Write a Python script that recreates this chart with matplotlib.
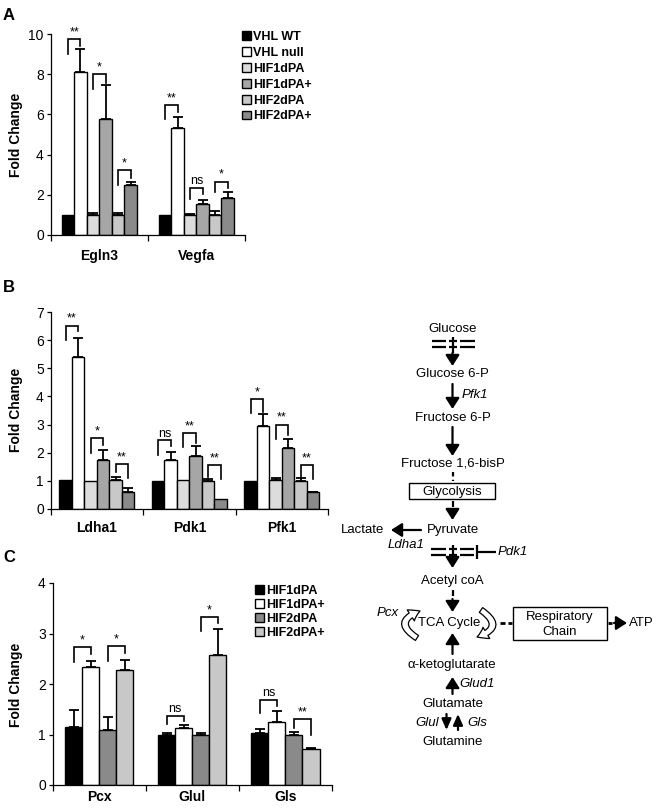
import numpy as np
import matplotlib
matplotlib.use('Agg')
import matplotlib.pyplot as plt
from matplotlib.patches import Rectangle, FancyArrowPatch

plt.rcParams['font.family'] = ['Liberation Sans', 'DejaVu Sans']

# ---- panel A data ----
a_genes = ['Egln3', 'Vegfa']
a_series = ['VHL WT', 'VHL null', 'HIF1dPA', 'HIF1dPA+', 'HIF2dPA', 'HIF2dPA+']
a_colors = ['#000000', '#ffffff', '#dcdcdc', '#a6a6a6', '#c8c8c8', '#8a8a8a']
egln3_vals = [1.0, 8.1, 1.0, 5.77, 1.0, 2.5]
egln3_err = [0, 1.15, 0.1, 1.68, 0.08, 0.16]
vegfa_vals = [1.0, 5.33, 1.0, 1.53, 0.98, 1.86]
vegfa_err = [0, 0.55, 0.05, 0.22, 0.22, 0.28]
# (gene, bar i, bar j, left leg, top, right leg, label)
a_sig = [(0, 0, 1, 9.0, 9.75, 9.42, '**'), (0, 2, 3, 7.26, 8.0, 7.54, '*'),
         (0, 4, 5, 2.49, 3.24, 2.86, '*'), (1, 0, 1, 5.76, 6.48, 6.13, '**'),
         (1, 2, 3, 1.81, 2.36, 2.03, 'ns'), (1, 4, 5, 2.14, 2.66, 2.36, '*')]

# ---- panel B data ----
b_genes = ['Ldha1', 'Pdk1', 'Pfk1']
ldha1_vals = [1.03, 5.4, 1.0, 1.75, 1.02, 0.6]
ldha1_err = [0, 0.66, 0, 0.35, 0.11, 0.13]
pdk1_vals = [1.0, 1.73, 1.03, 1.9, 1.0, 0.36]
pdk1_err = [0, 0.28, 0, 0.33, 0.08, 0]
pfk1_vals = [1.0, 2.94, 1.02, 2.17, 1.01, 0.6]
pfk1_err = [0, 0.43, 0.08, 0.32, 0.09, 0.02]
b_sig = [(0, 0, 1, 6.0, 6.52, 6.32, '**'), (0, 2, 3, 2.0, 2.52, 2.29, '*'),
         (0, 4, 5, 1.3, 1.6, 1.1, '**'), (1, 0, 1, 1.93, 2.44, 2.23, 'ns'),
         (1, 2, 3, 2.2, 2.7, 2.35, '**'), (1, 4, 5, 1.15, 1.57, 1.05, '**'),
         (2, 0, 1, 3.4, 3.9, 3.45, '*'), (2, 2, 3, 2.5, 3.0, 2.62, '**'),
         (2, 4, 5, 1.15, 1.55, 1.05, '**')]

# ---- panel C data ----
c_genes = ['Pcx', 'Glul', 'Gls']
c_series = ['HIF1dPA', 'HIF1dPA+', 'HIF2dPA', 'HIF2dPA+']
c_colors = ['#000000', '#ffffff', '#8a8a8a', '#c8c8c8']
pcx_vals = [1.15, 2.33, 1.09, 2.27]
pcx_err = [0.33, 0.12, 0.25, 0.2]
glul_vals = [1.0, 1.12, 1.0, 2.57]
glul_err = [0.03, 0.07, 0.02, 0.52]
gls_vals = [1.02, 1.25, 1.0, 0.71]
gls_err = [0.09, 0.22, 0.04, 0.03]
c_sig = [(0, 0, 1, 2.43, 2.73, 2.59, '*'), (0, 2, 3, 2.45, 2.75, 2.62, '*'),
         (1, 0, 1, 1.21, 1.37, 1.27, 'ns'), (1, 2, 3, 3.04, 3.32, 3.2, '*'),
         (2, 0, 1, 1.42, 1.69, 1.57, 'ns'), (2, 2, 3, 1.13, 1.31, 1.0, '**')]

W, H = 660, 811
fig = plt.figure(figsize=(W / 100, H / 100), dpi=100)


def px_axes(x0, y0, x1, y1):
    # pixel box (top-left origin) -> figure axes
    return fig.add_axes([x0 / W, 1 - y1 / H, (x1 - x0) / W, (y1 - y0) / H])


def bar_panel(ax, genes, vals, errs, colors, width, ymax, sig, pad):
    n = len(colors)
    offs = (np.arange(n) - (n - 1) / 2) * width
    centers = np.arange(len(genes)) + 0.5
    vals = np.array(vals)
    errs = np.array(errs)
    bars = []
    for k in range(n):
        x = centers + offs[k]
        b = ax.bar(x, vals[:, k], width, color=colors[k], edgecolor='black',
                   linewidth=1.0, zorder=2)
        bars.append(b)
        m = errs[:, k] > 0
        ax.errorbar(x[m], vals[m, k], yerr=[np.zeros(m.sum()), errs[m, k]],
                    fmt='none', ecolor='black', elinewidth=1.3, capsize=3.6,
                    capthick=1.3, zorder=3)
    for g, i, j, yl, yt, yr, lab in sig:
        xi, xj = centers[g] + offs[i], centers[g] + offs[j]
        ax.plot([xi, xi, xj, xj], [yl, yt, yt, yr], color='black', lw=1.2,
                solid_joinstyle='miter', zorder=4)
        ax.annotate(lab, ((xi + xj) / 2, yt), xytext=(0, 0.5),
                    textcoords='offset points', ha='center', va='bottom',
                    fontsize=9)
    ax.set_xlim(0, len(genes))
    ax.set_ylim(0, ymax)
    ax.set_yticks(range(0, ymax + 1, 2 if ymax == 10 else 1))
    ax.set_xticks(range(len(genes) + 1))
    ax.set_xticklabels([])
    ax.set_xticks(centers, genes, minor=True)
    ax.tick_params(axis='x', which='minor', length=0, pad=pad, labelsize=10)
    for t in ax.get_xticklabels(minor=True):
        t.set_fontweight('bold')
    ax.tick_params(axis='x', which='major', direction='out', length=4, width=0.9)
    ax.tick_params(axis='y', direction='out', length=3, width=0.9, labelsize=10, pad=2)
    for s in ['top', 'right']:
        ax.spines[s].set_visible(False)
    for s in ['left', 'bottom']:
        ax.spines[s].set_linewidth(0.9)
    return bars


# Panel A
axA = px_axes(50.7, 34, 245, 235)
barsA = bar_panel(axA, a_genes, [egln3_vals, vegfa_vals], [egln3_err, vegfa_err],
                  a_colors, 0.129, 10, a_sig, 10)
fig.legend(barsA, a_series, loc='upper left', bbox_to_anchor=(242 / W, 1 - 31 / H),
           frameon=False, prop={'weight': 'bold', 'size': 9}, handlelength=0.7,
           handleheight=0.7, handletextpad=0.2, labelspacing=0.31,
           borderpad=0, borderaxespad=0)

# Panel B
axB = px_axes(50.7, 312, 328, 509)
bar_panel(axB, b_genes, [ldha1_vals, pdk1_vals, pfk1_vals],
          [ldha1_err, pdk1_err, pfk1_err], a_colors, 0.135, 7, b_sig, 9)

# Panel C
axC = px_axes(52.7, 583, 332, 785)
barsC = bar_panel(axC, c_genes, [pcx_vals, glul_vals, gls_vals],
                  [pcx_err, glul_err, gls_err], c_colors, 0.183, 4, c_sig, 3.5)
fig.legend(barsC, c_series, loc='upper left', bbox_to_anchor=(255 / W, 1 - 585 / H),
           frameon=False, prop={'weight': 'bold', 'size': 9}, handlelength=0.7,
           handleheight=0.7, handletextpad=0.2, labelspacing=0.16,
           borderpad=0, borderaxespad=0)

# y labels and panel letters
for yc in [135, 410, 685]:
    fig.text(16 / W, 1 - yc / H, 'Fold Change', rotation=90, ha='center',
             va='center', fontsize=10, fontweight='bold')
for lab, yc in [('A', 16), ('B', 287), ('C', 557)]:
    fig.text(9 / W, 1 - yc / H, lab, ha='center', va='center', fontsize=12,
             fontweight='bold')

# ---- pathway diagram ----
d = fig.add_axes([0, 0, 1, 1])
d.set_xlim(0, W)
d.set_ylim(H, 0)
d.axis('off')
d.patch.set_alpha(0)

fs = 9.5
cx = 452.5


def txt(x, y, s, ha='center', italic=False):
    d.text(x, y, s, ha=ha, va='center', fontsize=fs,
           style='italic' if italic else 'normal')


def arrow(x0, y0, x1, y1, hw=0.32):
    d.add_patch(FancyArrowPatch((x0, y0), (x1, y1),
                                arrowstyle=f'-|>,head_length=0.5,head_width={hw}',
                                mutation_scale=13, lw=1.6, color='black',
                                shrinkA=0, shrinkB=0))


def line(xs, ys, ls='-', lw=1.6):
    d.plot(xs, ys, color='black', lw=lw, ls=ls, solid_capstyle='butt')


def membrane(y1, y2, x0, x1):
    for y in (y1, y2):
        line([x0, cx - 7], [y, y])
        line([cx - 4, cx + 4], [y, y])
        line([cx + 7, x1], [y, y])


txt(cx, 329, 'Glucose')
membrane(341, 347, 432, 475)
line([cx, cx], [337, 353])
arrow(cx, 353, cx, 366)
txt(cx, 374, 'Glucose 6-P')
arrow(cx, 384, cx, 409)
txt(462, 395, 'Pfk1', ha='left', italic=True)
txt(cx, 418, 'Fructose 6-P')
arrow(cx, 427, cx, 456)
txt(cx, 464, 'Fructose 1,6-bisP')
line([cx, cx], [472, 481], ls=(0, (2, 1.5)))
d.add_patch(Rectangle((409, 483), 86, 16, fill=False, lw=1.0))
txt(cx, 491.5, 'Glycolysis')
line([cx, cx], [501, 507])
arrow(cx, 509, cx, 520)
txt(cx, 530, 'Pyruvate')
arrow(421, 530, 391, 530)
txt(384, 530, 'Lactate', ha='right')
txt(406, 545, 'Ldha1', italic=True)
membrane(549, 555, 431, 474)
line([cx, cx], [545, 558])
line([477, 477], [545, 559])
line([477, 496], [552, 552])
txt(498, 552, 'Pdk1', ha='left', italic=True)
arrow(cx, 558, cx, 568)
txt(cx, 581, 'Acetyl coA')
line([cx, cx], [590, 596])
arrow(cx, 599, cx, 612)
txt(cx - 3, 623, 'TCA Cycle')
txt(388, 613, 'Pcx', italic=True)
for p0, p1 in [((417, 638), (420, 611)), ((481, 610), (477, 637))]:
    d.add_patch(FancyArrowPatch(p0, p1, connectionstyle='arc3,rad=-1.0',
                                arrowstyle='simple,head_length=0.7,head_width=0.9,tail_width=0.4',
                                mutation_scale=10.5, fc='white', ec='black', lw=0.9,
                                shrinkA=0, shrinkB=0))
line([500, 505], [623, 623], lw=2)
line([508, 512], [623, 623], lw=2)
d.add_patch(Rectangle((513, 607), 94, 33, fill=False, lw=1.0))
txt(560, 617, 'Respiratory')
txt(560, 632, 'Chain')
line([608, 612], [623, 623], lw=2)
arrow(614, 623, 627, 623)
txt(629, 623, 'ATP', ha='left')
arrow(cx, 654, cx, 633)
txt(cx - 1, 665, '\u03b1-ketoglutarate')
arrow(cx, 694, cx, 677)
txt(459, 684, 'Glud1', ha='left', italic=True)
txt(cx, 704, 'Glutamate')
arrow(446.5, 714, 446.5, 730, hw=0.22)
arrow(458, 730, 458, 714, hw=0.22)
txt(439, 723, 'Glul', ha='right', italic=True)
txt(467, 723, 'Gls', ha='left', italic=True)
txt(cx, 742, 'Glutamine')

fig.savefig('out.png', dpi=100)
